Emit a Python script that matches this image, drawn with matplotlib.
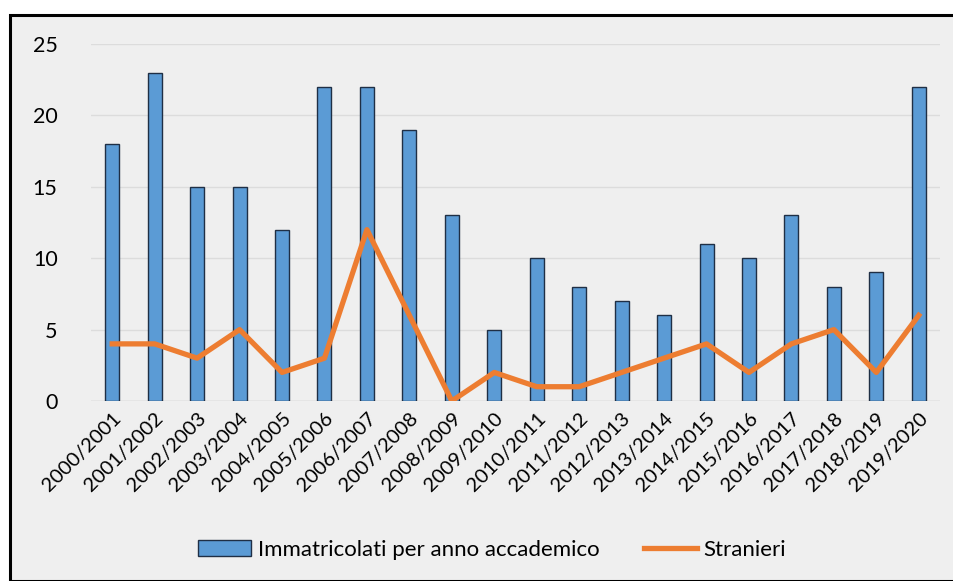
import matplotlib
matplotlib.use("Agg")
import matplotlib.pyplot as plt
from matplotlib.patches import Rectangle

years = ["2000/2001", "2001/2002", "2002/2003", "2003/2004", "2004/2005",
         "2005/2006", "2006/2007", "2007/2008", "2008/2009", "2009/2010",
         "2010/2011", "2011/2012", "2012/2013", "2013/2014", "2014/2015",
         "2015/2016", "2016/2017", "2017/2018", "2018/2019", "2019/2020"]
immatricolati = [18, 23, 15, 15, 12, 22, 22, 19, 13, 5, 10, 8, 7, 6, 11, 10, 13, 8, 9, 22]
stranieri = [4, 4, 3, 5, 2, 3, 12, 6, 0, 2, 1, 1, 2, 3, 4, 2, 4, 5, 2, 6]
yticks = [0, 5, 10, 15, 20, 25]

plt.rcParams['font.family'] = ['Lato', 'DejaVu Sans']

W, H = 954, 581
fig = plt.figure(figsize=(W / 100, H / 100), dpi=100, facecolor='white')
# chart area background with black border
fig.patches.append(Rectangle((10 / W, 0), 1 - 10 / W + 0.01, 1 - 15 / H,
                             transform=fig.transFigure, facecolor='#efefef',
                             edgecolor='black', linewidth=2.2, zorder=-10))

ax = fig.add_axes([91 / W, 1 - 401 / H, (940 - 91) / W, (401 - 44) / H])
ax.set_zorder(5)
ax.set_facecolor('none')
x = list(range(len(years)))
bars = ax.bar(x, immatricolati, width=0.33, color='#5b9bd5', edgecolor='#1f2f45',
              linewidth=1.0, label='Immatricolati per anno accademico', zorder=2)
line, = ax.plot(x, stranieri, color='#ed7d31', linewidth=3.8, label='Stranieri', zorder=3,
                solid_joinstyle='round')
ax.set_xlim(-0.5, len(years) - 0.5)
ax.set_ylim(0, 25)
ax.set_yticks(yticks)
ax.set_xticks(x)
ax.set_xticklabels(years, rotation=45, ha='right', rotation_mode='anchor', fontsize=14.5)
ax.tick_params(axis='y', labelsize=15.5, length=0, pad=24)
ax.tick_params(axis='x', length=0, pad=6)
ax.grid(axis='y', color='#dcdcdc', linewidth=1.0, zorder=0)
for s in ax.spines.values():
    s.set_visible(False)
ax.axhline(0, color='#d0d0d0', linewidth=1.0, zorder=1)

leg = fig.legend([bars, line], ['Immatricolati per anno accademico', 'Stranieri'],
                 loc='center', bbox_to_anchor=(492 / W, 1 - 550 / H), ncol=2,
                 frameon=False, fontsize=16, handlelength=2.4, columnspacing=2.0,
                 handletextpad=0.3)

fig.savefig('out.png', dpi=100, facecolor='white')
